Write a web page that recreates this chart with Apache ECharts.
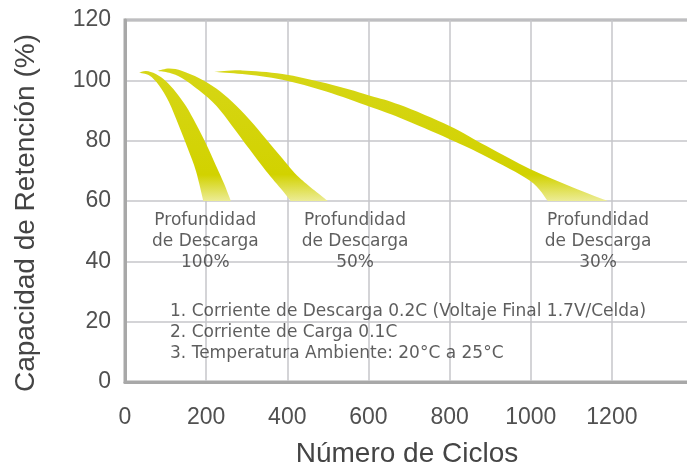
<!DOCTYPE html>
<html>
<head>
<meta charset="utf-8">
<script src="https://cdn.jsdelivr.net/npm/echarts@6/dist/echarts.min.js"></script>
<style>
html, body { margin: 0; padding: 0; background: #fff; }
#chart { width: 687px; height: 464px; }
</style>
</head>
<body>
<div id="chart"></div>
<script>
// ejes
var xTicks = [0, 200, 400, 600, 800, 1000, 1200];
var yTicks = [0, 20, 40, 60, 80, 100, 120];

// bordes de cada banda: [ciclos, capacidad %]
var dod100Upper = [[34, 102.5], [52, 103.1], [76, 102.1], [101, 99.7], [126, 96.0], [151, 91.3], [175, 85.5], [200, 78.9], [224, 71.8], [244, 65.8], [261, 60]];
var dod100Lower = [[34, 102.5], [60, 101.6], [84, 98.3], [108, 92.9], [133, 84.9], [155, 77.3], [175, 69.9], [193, 60]];

var dod50Upper = [[80, 103.1], [109, 103.9], [141, 103.1], [183, 100.7], [225, 97.3], [264, 92.9], [306, 87.1], [348, 80.5], [388, 74.1], [430, 67.7], [500, 60]];
var dod50Lower = [[80, 103.1], [109, 102.5], [141, 100.7], [183, 96.6], [225, 91.6], [264, 84.9], [306, 77.3], [348, 69.9], [388, 63.5], [408, 60]];

var dod30Upper = [[220, 102.8], [289, 103.3], [388, 102.1], [496, 99.0], [602, 95.0], [677, 91.9], [800, 84.9], [891, 78.2], [998, 70.6], [1104, 64.5], [1190, 60]];
var dod30Lower = [[220, 102.8], [289, 102.1], [388, 100.2], [496, 96.3], [602, 91.3], [677, 87.6], [800, 80.5], [891, 74.7], [998, 66.7], [1042, 60]];

var bandNames = ['100%', '50%', '30%'];
var bands = [
    {upper: dod100Upper, lower: dod100Lower},
    {upper: dod50Upper, lower: dod50Lower},
    {upper: dod30Upper, lower: dod30Lower}
];

// textos
var dodLabelPos = [[198, 46.6], [567, 46.6], [1166, 46.6]];
var notes = [
    '1. Corriente de Descarga 0.2C (Voltaje Final 1.7V/Celda)',
    '2. Corriente de Carga 0.1C',
    '3. Temperatura Ambiente: 20°C a 25°C'
];
var notesPos = [[111, 16.5]];

var axisGray = '#a8a8a8';
var gridGray = '#c6c6ca';
var textGray = '#505050';

function bandFill() {
    return new echarts.graphic.LinearGradient(0, 0, 0, 1, [
        {offset: 0, color: '#d6d616'},
        {offset: 0.8, color: '#d2d200'},
        {offset: 1, color: '#ecec96'}
    ]);
}

// curva suave (catmull-rom) que pasa por los puntos ya en pixeles
function curveTo(pts) {
    var d = '';
    for (var i = 0; i < pts.length - 1; i++) {
        var p0 = pts[i - 1] || pts[i], p1 = pts[i], p2 = pts[i + 1], p3 = pts[i + 2] || pts[i + 1];
        var c1x = p1[0] + (p2[0] - p0[0]) / 6, c1y = p1[1] + (p2[1] - p0[1]) / 6;
        var c2x = p2[0] - (p3[0] - p1[0]) / 6, c2y = p2[1] - (p3[1] - p1[1]) / 6;
        d += ' C' + c1x + ',' + c1y + ' ' + c2x + ',' + c2y + ' ' + p2[0] + ',' + p2[1];
    }
    return d;
}

option = {
    animation: false,
    backgroundColor: '#fff',
    grid: {
        left: 125, right: -2, top: 20, bottom: 82,
        outerBoundsMode: 'none',
        containLabel: false,
        show: true,
        borderColor: axisGray,
        borderWidth: 3
    },
    xAxis: {
        type: 'value',
        min: 0, max: 1390, interval: 200,
        name: 'Número de Ciclos',
        nameLocation: 'middle',
        nameGap: 58,
        nameTextStyle: {fontFamily: 'Liberation Sans', fontSize: 28, color: '#444'},
        axisLine: {show: true, lineStyle: {color: axisGray, width: 3}},
        axisTick: {show: false},
        axisLabel: {
            showMaxLabel: false,
            margin: 24,
            fontFamily: 'Liberation Sans', fontSize: 23, color: textGray,
            formatter: function (v) { return xTicks.indexOf(v) >= 0 ? String(v) : ''; }
        },
        splitLine: {show: true, lineStyle: {color: gridGray, width: 1.5}}
    },
    yAxis: {
        type: 'value',
        min: 0, max: 120, interval: 20,
        name: 'Capacidad de Retención (%)',
        nameLocation: 'middle',
        nameGap: 85,
        nameTextStyle: {fontFamily: 'Liberation Sans', fontSize: 28, color: '#444', padding: [0, 24, 0, 0]},
        axisLine: {show: true, lineStyle: {color: axisGray, width: 3}},
        axisTick: {show: false},
        axisLabel: {
            margin: 14,
            fontFamily: 'Liberation Sans', fontSize: 23, color: textGray,
            formatter: function (v) { return yTicks.indexOf(v) >= 0 ? String(v) : ''; }
        },
        splitLine: {show: true, lineStyle: {color: gridGray, width: 1.5}}
    },
    series: [
        {
            type: 'custom',
            name: 'bandas',
            data: bands.map(function (b) { return b.upper[0]; }),
            renderItem: function (params, api) {
                var b = bands[params.dataIndex];
                var up = b.upper.map(function (p) { return api.coord(p); });
                var lo = b.lower.map(function (p) { return api.coord(p); }).reverse();
                var d = 'M' + up[0][0] + ',' + up[0][1] + curveTo(up)
                    + ' L' + lo[0][0] + ',' + lo[0][1] + curveTo(lo) + ' Z';
                return {
                    type: 'path',
                    shape: {pathData: d},
                    style: {fill: bandFill()}
                };
            },
            z: 3
        },
        {
            type: 'scatter',
            name: 'profundidad',
            symbolSize: 0,
            data: dodLabelPos.map(function (p, i) { return {value: p, name: bandNames[i]}; }),
            label: {
                show: true,
                position: 'inside',
                align: 'center',
                verticalAlign: 'middle',
                fontFamily: 'DejaVu Sans',
                fontSize: 17,
                lineHeight: 21,
                color: '#363636',
                formatter: function (p) { return 'Profundidad\nde Descarga\n' + p.name; }
            },
            silent: true,
            z: 4
        },
        {
            type: 'scatter',
            name: 'notas',
            symbolSize: 0,
            data: notesPos,
            label: {
                show: true,
                position: 'right',
                distance: 0,
                align: 'left',
                verticalAlign: 'middle',
                fontFamily: 'DejaVu Sans',
                fontSize: 17,
                lineHeight: 21,
                color: '#363636',
                formatter: function () { return notes.join('\n'); }
            },
            silent: true,
            z: 4
        }
    ]
};

var mychart = echarts.init(document.getElementById('chart'));
mychart.setOption(option);
</script>
</body>
</html>
